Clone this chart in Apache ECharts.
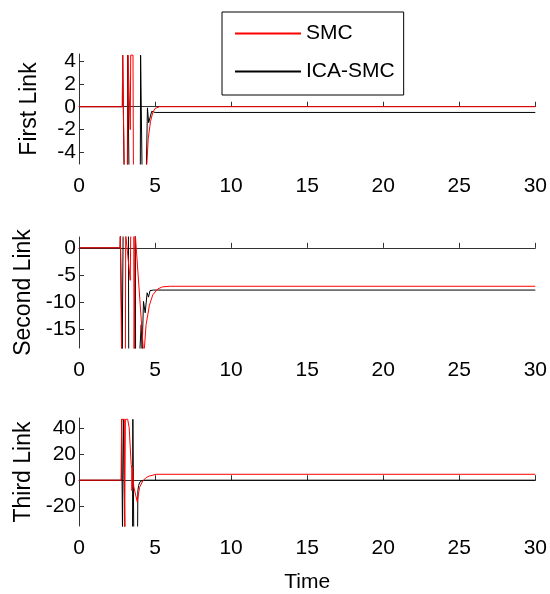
<!DOCTYPE html>
<html><head><meta charset="utf-8">
<script src="https://cdn.jsdelivr.net/npm/echarts@6/dist/echarts.min.js"></script>
<style>html,body{margin:0;padding:0;background:#fff}#c{width:550px;height:594px}</style>
</head><body><div id="c"></div>
<script>
// ---- data ----
const seriesNames = ['SMC', 'ICA-SMC'];
const seriesColors = ['#ff0000', '#000000'];
const linkNames = ['First Link', 'Second Link', 'Third Link'];
const xTicks = [0, 5, 10, 15, 20, 25, 30];
const yTicks1 = [-4, -2, 0, 2, 4];
const yTicks2 = [-15, -10, -5, 0];
const yTicks3 = [-20, 0, 20, 40];
const yRange1 = [-5, 4.6];
const yRange2 = [-18.5, 2];
const yRange3 = [-35, 47.5];

// First link
const smc1T = [0, 2.85, 2.87, 2.96, 2.98, 3.2, 3.22, 3.3, 3.37, 3.4, 3.55, 3.58, 4.42, 4.55, 4.7, 4.85, 5.0, 5.3, 30];
const smc1Y = [0, 0, 4.5, 4.5, -6, -6, 4.5, 4.5, -2, 4.5, 4.5, -6, -6, -2.8, -1.3, -0.5, -0.15, 0, 0];
const ica1T = [0, 2.85, 2.87, 2.95, 2.97, 3.18, 3.2, 3.27, 3.29, 4.03, 4.05, 4.13, 4.15, 4.42, 4.5, 4.58, 4.78, 5.0, 30];
const ica1Y = [0, 0, 4.5, 4.5, -6, -6, 4.5, 4.5, -6, -6, 4.5, 4.5, -6, -6, -0.1, -1.4, -0.4, -0.5, -0.5];

// Second link
const smc2T = [0, 2.7, 2.72, 2.78, 2.8, 3.05, 3.07, 3.2, 3.37, 3.4, 3.6, 3.62, 3.68, 3.7, 4.26, 4.41, 4.63, 4.85, 5.17, 5.5, 6.0, 30];
const smc2Y = [0, 0, 2.5, 2.5, -20, -20, 2.5, 2.5, -6, 2.5, 2.5, -20, -20, 2.5, -20, -14.2, -10.6, -8.7, -7.6, -7.2, -7.1, -7.1];
const ica2T = [0, 2.7, 2.72, 2.82, 2.84, 2.88, 2.9, 3.25, 3.27, 3.68, 3.7, 3.72, 3.98, 4.09, 4.15, 4.24, 4.35, 4.48, 4.57, 4.67, 4.78, 4.91, 5.07, 30];
const ica2Y = [0, 0, 2.5, 2.5, -20, -20, 2.5, 2.5, -20, -20, 2.5, -20, -20, -14.2, -19, -9.9, -12, -8.3, -9.1, -7.9, -8.2, -7.8, -7.8, -7.8];

// Third link
const smc3T = [0, 2.78, 2.8, 2.98, 3.0, 3.03, 3.05, 3.2, 3.3, 3.43, 3.47, 3.48, 3.5, 3.6, 3.83, 3.98, 4.2, 4.41, 4.63, 5.07, 30];
const smc3Y = [0, 0, 46.5, 46.5, -40, -40, 46.5, 46.5, 40, 12, 9, -8, 10.7, -5, -16.5, -5.5, -0.5, 2, 3.2, 4.5, 4.5];
const ica3T = [0, 2.78, 2.8, 2.84, 2.86, 2.9, 2.92, 3.0, 3.02, 3.52, 3.54, 3.58, 3.6, 3.85, 3.87, 3.92, 4.0, 4.15, 4.3, 30];
const ica3Y = [0, 0, 46.5, 46.5, -40, -40, 46.5, 46.5, -40, -40, 46.5, 46.5, -40, -40, -8, -4, -1.5, -0.3, 0, 0];

// ---- chart ----
const zip = (t, y) => t.map((v, i) => [v, y[i]]);
const FONT = "'Liberation Sans',Arial,sans-serif";
const grids = [
  { left: 79, right: 10, top: 54, height: 110 },
  { left: 79, right: 10, top: 237, height: 111 },
  { left: 79, right: 10, top: 418, height: 110 }
];
const yTicks = [yTicks1, yTicks2, yTicks3];
const yRanges = [yRange1, yRange2, yRange3];
const axisLine = { show: true, lineStyle: { color: '#333', width: 1 } };

const xAxis = grids.map((g, i) => ({
  type: 'value', gridIndex: i, min: xTicks[0], max: xTicks[xTicks.length - 1], interval: 5,
  axisLine: axisLine,
  axisTick: { show: true, inside: true, length: 5, lineStyle: { color: '#333' } },
  axisLabel: { show: true, color: '#000', fontFamily: FONT, fontSize: 21, margin: 12, hideOverlap: false },
  splitLine: { show: false },
  name: i === 2 ? 'Time' : '', nameLocation: 'middle', nameGap: 46,
  nameTextStyle: { color: '#000', fontFamily: FONT, fontSize: 21 }
}));
const yAxis = grids.map((g, i) => ({
  type: 'value', gridIndex: i, min: yRanges[i][0], max: yRanges[i][1],
  axisLine: axisLine,
  axisTick: { show: true, inside: true, length: 5, customValues: yTicks[i], lineStyle: { color: '#333' } },
  axisLabel: { show: true, color: '#000', fontFamily: FONT, fontSize: 21, margin: 3, customValues: yTicks[i], hideOverlap: false },
  splitLine: { show: false },
  name: linkNames[i], nameLocation: 'middle', nameGap: 38, nameRotate: 90,
  nameTextStyle: { color: '#000', fontFamily: FONT, fontSize: 23 }
}));

const pairs = [[smc1T, smc1Y, ica1T, ica1Y], [smc2T, smc2Y, ica2T, ica2Y], [smc3T, smc3Y, ica3T, ica3Y]];
const series = [];
pairs.forEach((p, i) => {
  series.push({ name: seriesNames[0], type: 'line', xAxisIndex: i, yAxisIndex: i, data: zip(p[0], p[1]),
    color: seriesColors[0], showSymbol: false, symbol: 'none', clip: true, z: 3,
    lineStyle: { color: seriesColors[0], width: 1 }, itemStyle: { color: seriesColors[0] }, animation: false });
  series.push({ name: seriesNames[1], type: 'line', xAxisIndex: i, yAxisIndex: i, data: zip(p[2], p[3]),
    color: seriesColors[1], showSymbol: false, symbol: 'none', clip: true, z: 2,
    lineStyle: { color: seriesColors[1], width: 1 }, itemStyle: { color: seriesColors[1] }, animation: false });
});

const chart = echarts.init(document.getElementById('c'), null, { renderer: 'canvas' });
chart.setOption({
  backgroundColor: '#fff',
  animation: false,
  grid: grids,
  xAxis: xAxis,
  yAxis: yAxis,
  legend: {
    data: seriesNames.map((n, k) => ({ name: n, icon: 'rect', itemStyle: { color: seriesColors[k], borderWidth: 0 } })),
    orient: 'vertical', left: 222, top: 12,
    backgroundColor: '#fff', borderColor: '#000', borderWidth: 1,
    itemWidth: 66, itemHeight: 2,
    padding: [10, 9, 12, 13], itemGap: 15,
    textStyle: { color: '#000', fontFamily: FONT, fontSize: 21, lineHeight: 23 }
  },
  series: series
});
</script></body></html>
